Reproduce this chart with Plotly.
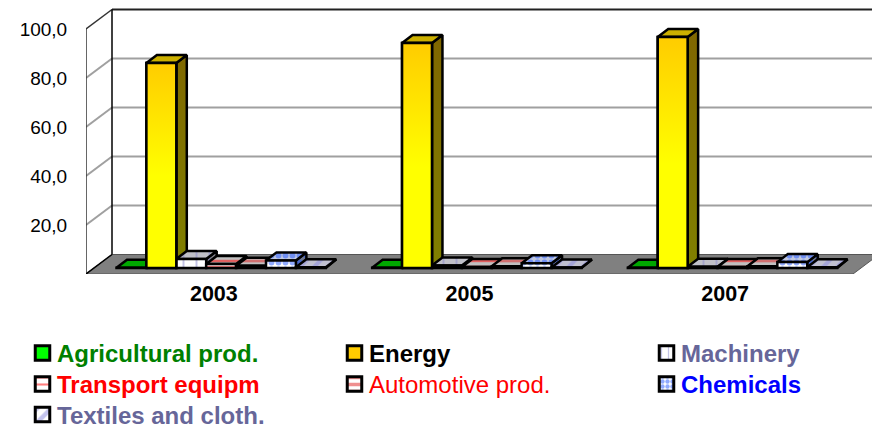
import plotly.graph_objects as go

# ---------- data ----------
years = ["2003", "2005", "2007"]
series_names = ["Agricultural prod.", "Energy", "Machinery", "Transport equipm",
                "Automotive prod.", "Chemicals", "Textiles and cloth."]
agricultural = [0.1, 0.1, 0.1]
energy = [83.7, 91.8, 94.3]
machinery = [3.7, 1.0, 0.5]
transport = [1.6, 0.4, 0.4]
automotive = [0.9, 0.7, 0.7]
chemicals = [3.1, 1.9, 2.4]
textiles = [0.3, 0.2, 0.3]
tick_values = [20, 40, 60, 80, 100]
tick_labels = ["20,0", "40,0", "60,0", "80,0", "100,0"]
all_values = [agricultural, energy, machinery, transport, automotive, chemicals, textiles]

# ---------- geometry of the oblique view ----------
W, H = 872, 424
LEFT, FLOOR = 86, 274
CAT_PX, UNIT_PX = 255.67, 2.45
px_x = lambda p: p / CAT_PX
px_y = lambda p: p / UNIT_PX
X_RANGE = [-0.5, -0.5 + (W - LEFT) / CAT_PX]
Y_RANGE = [0, FLOOR / UNIT_PX]
X0, X1 = -0.5, 2.5
WALL_DX, WALL_DY = px_x(26), px_y(19.5)
BAR_W = px_x(29.9)
BAR_DX0, BAR_BASE = px_x(7.3), px_y(6)
BAR_DX, BAR_DY = px_x(10.5), px_y(8)

# ---------- styles ----------
styles = [
    dict(front="#00FF00", top="#00A800", side="#008000"),
    dict(front="#FFCC00", top="#CCB000", side="#807000"),
    dict(front="#FFFFFF", top="#C0C0C8", side="#808088", shape="|", fg="#8888CC", size=13, sol=0.15),
    dict(front="#FFFFFF", top="#C0C0C0", side="#808080", shape="-", fg="#FF0000", size=6, sol=0.4),
    dict(front="#FFFFFF", top="#C0C0C0", side="#808080", shape="-", fg="#E02020", size=6, sol=0.45),
    dict(front="#FFFFFF", top="#C0C8E0", side="#707890", shape=".", fg="#2255FF", size=7, sol=0.55),
    dict(front="#FFFFFF", top="#C0C0D0", side="#8080A0", shape="/", fg="#8888DD", size=10, sol=0.4),
]
swatch_sizes = [None, None, 7, 7, 7, 5, 10]
swatch_solidity = [None, None, 0.18, 0.3, 0.5, 0.6, 0.45]
text_colors = ["#008000", "#000000", "#666699", "#FF0000", "#FF0000", "#0000FF", "#666699"]
text_weights = ["bold", "bold", "bold", "bold", "normal", "bold", "bold"]
FONT = "Liberation Sans, Arial, sans-serif"
OUTLINE = "#000000"
EDGE = 2.5


def fill_pattern(st, bg):
    if "shape" not in st:
        return None
    return dict(shape=st["shape"], fgcolor=st["fg"], bgcolor=bg, size=st["size"], solidity=st["sol"])


def polygons(points_of):
    xs, ys = [], []
    for j in range(len(years)):
        px, py = points_of(j)
        xs += px + [px[0], None]
        ys += py + [py[0], None]
    return xs, ys


fig = go.Figure()

# ---------- walls, floor, gridlines ----------
shapes = []
def poly(pts, fill="rgba(0,0,0,0)", line="#000000", width=1.5):
    path = "M" + " L".join(f"{x},{y}" for x, y in pts) + " Z"
    shapes.append(dict(type="path", path=path, xref="x", yref="y", fillcolor=fill,
                       line=dict(color=line, width=width), layer="below"))
def seg(a, b, color, width):
    shapes.append(dict(type="line", x0=a[0], y0=a[1], x1=b[0], y1=b[1], xref="x", yref="y",
                       line=dict(color=color, width=width), layer="below"))

poly([(X0, 0), (X1, 0), (X1 + WALL_DX, WALL_DY), (X0 + WALL_DX, WALL_DY)], fill="#808080", line="#555555", width=1)
for t in tick_values[:-1]:
    seg((X0, t), (X0 + WALL_DX, t + WALL_DY), "#A0A0A0", 2)
    seg((X0 + WALL_DX, t + WALL_DY), (X1 + WALL_DX, t + WALL_DY), "#A0A0A0", 2)
seg((X0 + WALL_DX, 100 + WALL_DY), (X1 + WALL_DX, 100 + WALL_DY), "#222222", 2)
seg((X0, 100), (X0 + WALL_DX, 100 + WALL_DY), "#333333", 1.5)
seg((X0, 0), (X0, 100), "#333333", 1.5)
seg((X0, 0), (X0 + WALL_DX, WALL_DY), "#000000", 1.5)
seg((X0 + WALL_DX, WALL_DY), (X0 + WALL_DX, 100 + WALL_DY), "#000000", 1.5)

# ---------- side and top faces ----------
def left_edge(i, j):
    return j + (i - 3.5) * BAR_W + BAR_DX0

for i, vals in enumerate(all_values):
    st = styles[i]
    def side(j, i=i, vals=vals):
        r = left_edge(i, j) + BAR_W
        b, t = BAR_BASE, BAR_BASE + vals[j]
        return [r, r + BAR_DX, r + BAR_DX, r], [b, b + BAR_DY, t + BAR_DY, t]
    def top(j, i=i, vals=vals):
        l = left_edge(i, j)
        t = BAR_BASE + vals[j]
        return [l, l + BAR_W, l + BAR_W + BAR_DX, l + BAR_DX], [t, t, t + BAR_DY, t + BAR_DY]
    for getter, color in ((side, st["side"]), (top, st["top"])):
        xs, ys = polygons(getter)
        kw = dict(fillpattern=fill_pattern(st, color)) if "shape" in st else {}
        extra = {}
        if i == 1 and getter is side:
            extra = dict(fillgradient=dict(type="vertical", colorscale=[[0, "#808000"], [1, "#806600"]]))
        fig.add_trace(go.Scatter(x=xs, y=ys, mode="lines", fill="toself", fillcolor=color,
                                 line=dict(color=OUTLINE, width=EDGE), hoverinfo="skip",
                                 showlegend=False, xaxis="x", yaxis="y", **kw, **extra))

# ---------- front faces: real bars on an overlaying axis pair ----------
for i, vals in enumerate(all_values):
    st = styles[i]
    marker = dict(color=st["front"], line=dict(color=OUTLINE, width=EDGE))
    if "shape" in st:
        marker["pattern"] = fill_pattern(st, st["front"])
    fig.add_trace(go.Bar(x=[left_edge(i, j) + BAR_W / 2 for j in range(len(years))], y=vals,
                         base=BAR_BASE, width=BAR_W, marker=marker, name=series_names[i],
                         showlegend=False, xaxis="x2", yaxis="y2"))

# gradient skin on the tall Energy fronts
for j, v in enumerate(energy):
    l = left_edge(1, j)
    fig.add_trace(go.Scatter(
        x=[l, l + BAR_W, l + BAR_W, l, l],
        y=[BAR_BASE, BAR_BASE, BAR_BASE + v, BAR_BASE + v, BAR_BASE],
        mode="lines", fill="toself", line=dict(color=OUTLINE, width=EDGE),
        fillgradient=dict(type="vertical", colorscale=[[0, "#FFFF00"], [0.45, "#FFFF00"], [1, "#FFCC00"]]),
        hoverinfo="skip", showlegend=False, xaxis="x2", yaxis="y2"))

# ---------- hand placed legend (three columns, coloured labels) ----------
COLS = [42.5, 354.5, 666.5]
ROWS = [353, 384, 414.5]
annotations = []
for i, name in enumerate(series_names):
    st = styles[i]
    cx, cy = COLS[i % 3], ROWS[i // 3]
    marker = dict(color=st["front"], line=dict(color=OUTLINE, width=3))
    if "shape" in st:
        p = dict(fill_pattern(st, st["front"]))
        p["size"] = swatch_sizes[i]
        p["solidity"] = swatch_solidity[i]
        marker["pattern"] = p
    fig.add_trace(go.Bar(x=[cx], y=[-14.5], base=cy + 7.25, width=14.5, marker=marker,
                         showlegend=False, hoverinfo="skip", xaxis="x3", yaxis="y3"))
    annotations.append(dict(x=cx + 13.5, y=cy + 0.5, xref="x3", yref="y3", text=name, showarrow=False,
                            xanchor="left", yanchor="middle", borderpad=0,
                            font=dict(family=FONT, size=24, color=text_colors[i], weight=text_weights[i])))

hidden = dict(visible=False, showgrid=False, zeroline=False)
fig.update_layout(
    width=W, height=H, margin=dict(l=0, r=0, t=0, b=0),
    paper_bgcolor="white", plot_bgcolor="rgba(0,0,0,0)",
    barmode="overlay", showlegend=False, shapes=shapes, annotations=annotations,
    font=dict(family=FONT, color="#000000"),
    xaxis=dict(domain=[LEFT / W, 1], range=X_RANGE, tickmode="array", tickvals=[0, 1, 2], ticktext=years,
               ticks="", ticklabelstandoff=4, showgrid=False, zeroline=False,
               showline=False, tickfont=dict(size=21.5, weight="bold", family=FONT, color="#000000"), anchor="y"),
    yaxis=dict(domain=[(H - FLOOR) / H, 1], range=Y_RANGE, tickmode="array", tickvals=tick_values,
               ticktext=tick_labels, ticks="outside", ticklen=14, tickcolor="rgba(0,0,0,0)", showgrid=False,
               zeroline=False, showline=False, tickfont=dict(size=19, family=FONT, color="#000000"), anchor="x"),
    xaxis2=dict(overlaying="x", range=X_RANGE, anchor="y2", **hidden),
    yaxis2=dict(overlaying="y", range=Y_RANGE, anchor="x2", **hidden),
    xaxis3=dict(domain=[0, 1], range=[0, W], anchor="y3", **hidden),
    yaxis3=dict(domain=[0, (H - 304) / H], range=[H, 304], anchor="x3", **hidden),
)

fig.write_html("out.html", config=dict(displayModeBar=False),
               post_script="document.body.style.margin='0';document.documentElement.style.overflow='hidden';")
